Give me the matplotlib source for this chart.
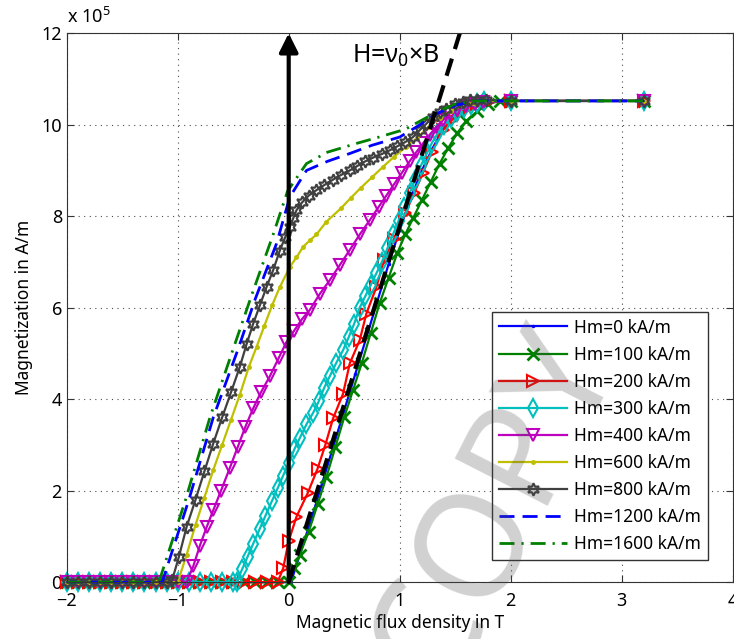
import matplotlib
matplotlib.use("Agg")
import matplotlib.pyplot as plt

# Magnetization M (in 1e5 A/m) versus flux density B (in T), one curve per Hm
HM_LABELS = ["Hm=0 kA/m", "Hm=100 kA/m", "Hm=200 kA/m", "Hm=300 kA/m",
             "Hm=400 kA/m", "Hm=600 kA/m", "Hm=800 kA/m", "Hm=1200 kA/m",
             "Hm=1600 kA/m"]

B_H0 = [-2.0, -1.9, -1.8, -1.7, -1.6, -1.5, -1.4, -1.3, -1.2, -1.1, -1.0, -0.9,
        -0.8, -0.7, -0.6, -0.5, -0.4, -0.3, -0.2, -0.1, 0.02, 0.1, 0.2, 0.3,
        0.4, 0.5, 0.6, 0.7, 0.8, 0.9, 1.0, 1.1, 1.2, 1.3, 1.4, 1.5, 1.6, 1.7,
        1.8, 2.0, 3.2]
M_H0 = [0, 0, 0, 0, 0, 0, 0, 0, 0, 0, 0, 0, 0, 0, 0, 0, 0, 0, 0, 0, 0, 0.6,
        1.35, 2.15, 2.95, 3.75, 4.55, 5.35, 6.15, 6.95, 7.7, 8.4, 9.0, 9.5,
        9.95, 10.25, 10.42, 10.5, 10.52, 10.52, 10.52]

B_H100 = [-2.0, -1.9, -1.8, -1.7, -1.6, -1.5, -1.4, -1.3, -1.2, -1.1, -1.0, -0.9,
          -0.8, -0.7, -0.6, -0.5, -0.4, -0.3, -0.2, -0.1, 0.0, 0.05, 0.1, 0.18,
          0.26, 0.34, 0.42, 0.5, 0.58, 0.66, 0.74, 0.82, 0.9, 0.98, 1.05, 1.12,
          1.2, 1.28, 1.36, 1.44, 1.52, 1.6, 1.7, 1.8, 1.9, 2.0, 3.2]
M_H100 = [0, 0, 0, 0, 0, 0, 0, 0, 0, 0, 0, 0, 0, 0, 0, 0, 0, 0, 0, 0, 0.0, 0.3,
          0.6, 1.1, 1.7, 2.3, 2.95, 3.6, 4.2, 4.8, 5.45, 6.1, 6.65, 7.2, 7.6,
          7.95, 8.35, 8.75, 9.15, 9.5, 9.82, 10.08, 10.3, 10.45, 10.52, 10.52,
          10.52]

B_H200 = [-2.0, -1.9, -1.8, -1.7, -1.6, -1.5, -1.4, -1.3, -1.2, -1.1, -1.0, -0.9,
          -0.8, -0.7, -0.6, -0.5, -0.4, -0.3, -0.2, -0.1, -0.05, 0.0, 0.07, 0.17,
          0.26, 0.33, 0.4, 0.49, 0.55, 0.64, 0.7, 0.79, 0.86, 0.95, 1.05, 1.13,
          1.21, 1.29, 1.39, 1.47, 1.54, 1.62, 1.7, 1.8, 2.0, 3.2]
M_H200 = [0, 0, 0, 0, 0, 0, 0, 0, 0, 0, 0, 0, 0, 0, 0, 0, 0, 0, 0, 0.0, 0.3,
          0.9, 1.43, 1.94, 2.48, 3.0, 3.58, 4.12, 4.78, 5.29, 5.87, 6.45, 7.04,
          7.51, 8.06, 8.5, 8.95, 9.41, 9.88, 10.1, 10.25, 10.37, 10.45, 10.5,
          10.52, 10.52]

B_H300 = [-2.0, -1.9, -1.8, -1.7, -1.6, -1.5, -1.4, -1.3, -1.2, -1.1, -1.0, -0.9,
          -0.8, -0.7, -0.6, -0.5, -0.47, -0.42, -0.37, -0.32, -0.26, -0.21,
          -0.15, -0.1, -0.05, 0.0, 0.05, 0.1, 0.16, 0.22, 0.27, 0.32, 0.37,
          0.43, 0.49, 0.54, 0.59, 0.64, 0.69, 0.74, 0.79, 0.84, 0.89, 0.94,
          0.99, 1.04, 1.09, 1.14, 1.19, 1.24, 1.29, 1.34, 1.4, 1.46, 1.52, 1.58,
          1.64, 1.7, 1.76, 2.0, 3.2]
M_H300 = [0, 0, 0, 0, 0, 0, 0, 0, 0, 0, 0, 0, 0, 0, 0, 0, 0.0, 0.28, 0.56,
          0.84, 1.17, 1.45, 1.78, 2.05, 2.33, 2.6, 2.9, 3.15, 3.45, 3.7, 3.95,
          4.25, 4.5, 4.8, 5.07, 5.35, 5.65, 6.0, 6.25, 6.5, 6.75, 7.0, 7.3,
          7.6, 7.9, 8.2, 8.5, 8.8, 9.1, 9.35, 9.6, 9.8, 10.0, 10.15, 10.28,
          10.37, 10.44, 10.48, 10.51, 10.52, 10.52]

B_H400 = [-2.0, -1.9, -1.8, -1.7, -1.6, -1.5, -1.4, -1.3, -1.2, -1.1, -1.0,
          -0.92, -0.86, -0.8, -0.74, -0.68, -0.61, -0.53, -0.46, -0.39, -0.32,
          -0.25, -0.17, -0.09, -0.02, 0.05, 0.12, 0.19, 0.28, 0.37, 0.46, 0.55,
          0.64, 0.73, 0.81, 0.88, 0.95, 1.02, 1.09, 1.15, 1.21, 1.27, 1.33,
          1.39, 1.45, 1.52, 1.6, 1.68, 1.75, 2.0, 3.2]
M_H400 = [0, 0, 0, 0, 0, 0, 0, 0, 0, 0, 0, 0.0, 0.35, 0.8, 1.2, 1.57, 2.0, 2.5,
          2.95, 3.4, 3.8, 4.15, 4.5, 4.9, 5.25, 5.5, 5.75, 5.95, 6.3, 6.6, 6.93,
          7.26, 7.6, 7.91, 8.2, 8.45, 8.7, 8.95, 9.2, 9.4, 9.59, 9.78, 9.95,
          10.1, 10.24, 10.33, 10.4, 10.46, 10.5, 10.52, 10.52]

B_H600 = [-2.0, -1.9, -1.8, -1.7, -1.6, -1.5, -1.4, -1.3, -1.2, -1.1, -1.0,
          -0.92, -0.84, -0.76, -0.68, -0.6, -0.52, -0.44, -0.36, -0.29, -0.22,
          -0.15, -0.08, 0.01, 0.07, 0.13, 0.19, 0.25, 0.34, 0.47, 0.56, 0.65,
          0.75, 0.85, 0.95, 1.06, 1.16, 1.26, 1.36, 1.46, 1.56, 1.66, 1.76,
          2.0, 3.2]
M_H600 = [0, 0, 0, 0, 0, 0, 0, 0, 0, 0, 0.0, 0.6, 1.25, 1.85, 2.45, 3.0, 3.55,
          4.1, 4.7, 5.14, 5.6, 6.05, 6.45, 6.89, 7.1, 7.33, 7.47, 7.6, 7.88,
          8.17, 8.4, 8.62, 8.85, 9.08, 9.3, 9.52, 9.72, 9.95, 10.15, 10.3,
          10.42, 10.48, 10.52, 10.52, 10.52]

B_H800 = [-2.0, -1.9, -1.8, -1.7, -1.6, -1.5, -1.4, -1.3, -1.2, -1.1, -1.05,
          -0.99, -0.92, -0.84, -0.76, -0.68, -0.6, -0.52, -0.44, -0.38, -0.32,
          -0.26, -0.2, -0.14, -0.08, -0.03, 0.01, 0.04, 0.07, 0.12, 0.18, 0.25,
          0.32, 0.4, 0.47, 0.55, 0.62, 0.69, 0.76, 0.84, 0.91, 0.98, 1.05, 1.12,
          1.18, 1.24, 1.3, 1.36, 1.42, 1.5, 1.57, 1.63, 1.7, 1.78, 2.0, 3.2]
M_H800 = [0, 0, 0, 0, 0, 0, 0, 0, 0, 0, 0.05, 0.55, 1.21, 1.8, 2.42, 3.03, 3.6,
          4.15, 4.71, 5.2, 5.65, 6.05, 6.45, 6.82, 7.25, 7.55, 7.77, 7.95, 8.13,
          8.3, 8.45, 8.57, 8.68, 8.8, 8.9, 9.0, 9.1, 9.2, 9.28, 9.36, 9.44,
          9.53, 9.62, 9.73, 9.88, 10.02, 10.17, 10.27, 10.35, 10.45, 10.5,
          10.53, 10.54, 10.54, 10.52, 10.52]

B_H1200 = [-2.0, -1.14, -0.9, -0.68, -0.46, -0.3, -0.11, 0.01, 0.16, 0.35, 0.55,
           0.75, 1.0, 1.15, 1.33, 1.51, 1.7, 2.0, 3.2]
M_H1200 = [0, 0, 1.8, 3.6, 5.07, 6.2, 7.4, 8.42, 9.0, 9.2, 9.37, 9.55, 9.73,
           9.95, 10.24, 10.43, 10.52, 10.52, 10.52]

B_H1600 = [-2.0, -1.17, -0.93, -0.71, -0.5, -0.33, -0.14, -0.01, 0.16, 0.35,
           0.61, 0.8, 1.05, 1.2, 1.35, 1.5, 1.7, 2.0, 3.2]
M_H1600 = [0, 0, 1.8, 3.6, 5.1, 6.3, 7.6, 8.55, 9.15, 9.4, 9.59, 9.72, 9.9,
           10.1, 10.3, 10.45, 10.52, 10.52, 10.52]

# H = nu0 x B reference line
B_LINE = [0.0, 1.6]
M_LINE = [0.0, 12.45]

X_TICKS = [-2, -1, 0, 1, 2, 3, 4]
Y_TICKS = [0, 2, 4, 6, 8, 10, 12]

plt.rcParams["font.family"] = ["Noto Sans", "DejaVu Sans"]
plt.rcParams["mathtext.fontset"] = "custom"
plt.rcParams["mathtext.rm"] = "Noto Sans"


def plot_curves(ax):
    """Draws the nine M(B) curves in MATLAB colours."""
    lw = 1.6
    ms = 9
    common = dict(lw=lw, clip_on=False)
    ax.plot(B_H0, M_H0, color="b", marker=".", ms=3, label=HM_LABELS[0], **common)
    ax.plot(B_H100, M_H100, color=(0, 0.5, 0), marker="x", ms=ms,
            mew=2, label=HM_LABELS[1], **common)
    ax.plot(B_H200, M_H200, color="r", marker=">", ms=ms, mew=1.5,
            mfc="none", label=HM_LABELS[2], **common)
    ax.plot(B_H300, M_H300, color=(0, 0.75, 0.75), marker="d", ms=ms,
            mew=1.5, mfc="none", label=HM_LABELS[3], **common)
    ax.plot(B_H400, M_H400, color=(0.75, 0, 0.75), marker="v", ms=ms,
            mew=1.5, mfc="none", label=HM_LABELS[4], **common)
    ax.plot(B_H600, M_H600, color=(0.75, 0.75, 0), marker=".", ms=5,
            label=HM_LABELS[5], **common)
    ax.plot(B_H800, M_H800, color=(0.25, 0.25, 0.25), marker=(6, 1, 0),
            ms=ms, mew=1.5, mfc="none", label=HM_LABELS[6], **common)
    ax.plot(B_H1200, M_H1200, color="b", lw=2, dashes=(5.4, 2.9),
            label=HM_LABELS[7], clip_on=False)
    ax.plot(B_H1600, M_H1600, color=(0, 0.5, 0), lw=2,
            dashes=(5.4, 2.5, 0.8, 2.5), label=HM_LABELS[8], clip_on=False)


def main():
    fig = plt.figure(figsize=(7.34, 6.39), dpi=100)
    ax = fig.add_axes([0.091, 0.089, 0.907, 0.859])

    plot_curves(ax)

    # reference line and arrow along B = 0
    ax.plot(B_LINE, M_LINE, color="k", lw=3, dashes=(4.3, 2.4))
    ax.annotate("", xy=(0, 12), xytext=(0, 0),
                arrowprops=dict(arrowstyle="-|>", lw=3, color="k",
                                mutation_scale=28, shrinkA=0, shrinkB=0))
    ax.text(0.57, 11.5, r"H=$\mathregular{ν_0}$×B", fontsize=18, va="center")

    ax.set_xlim(-2, 4)
    ax.set_ylim(0, 12)
    ax.set_xticks(X_TICKS)
    ax.set_yticks(Y_TICKS)
    ax.set_xticklabels(["\u22122", "\u22121", "0", "1", "2", "3", "4"])
    ax.tick_params(direction="in", top=True, right=True, labelsize=13,
                   length=5, color="0.2")
    ax.tick_params(axis="x", pad=7)
    for s in ax.spines.values():
        s.set_color("0.2")
    ax.grid(True, color="0.3", linestyle=(0, (1, 4)), lw=0.8)
    ax.set_xlabel("Magnetic flux density in T", fontsize=12.5, labelpad=3)
    ax.set_ylabel("Magnetization in A/m", fontsize=12.5, labelpad=6)
    ax.text(0.0, 1.012, r"x 10$^{\mathregular{5}}$", transform=ax.transAxes,
            fontsize=13, va="bottom")

    leg = ax.legend(loc="lower left", bbox_to_anchor=(0.626, 0.025), fontsize=12.5,
                    numpoints=1, handlelength=3.9, labelspacing=0.52,
                    fancybox=False, framealpha=1, edgecolor="0.2",
                    borderpad=0.4, handletextpad=0.4)
    leg.get_frame().set_linewidth(1.0)

    # semi-transparent watermark
    fig.text(0.675, 0.205, "COPY", fontsize=105, color="0.3", rotation=63,
             ha="center", va="center", alpha=0.26, zorder=10)

    fig.savefig("out.png", dpi=100)
    plt.close(fig)


if __name__ == "__main__":
    main()
